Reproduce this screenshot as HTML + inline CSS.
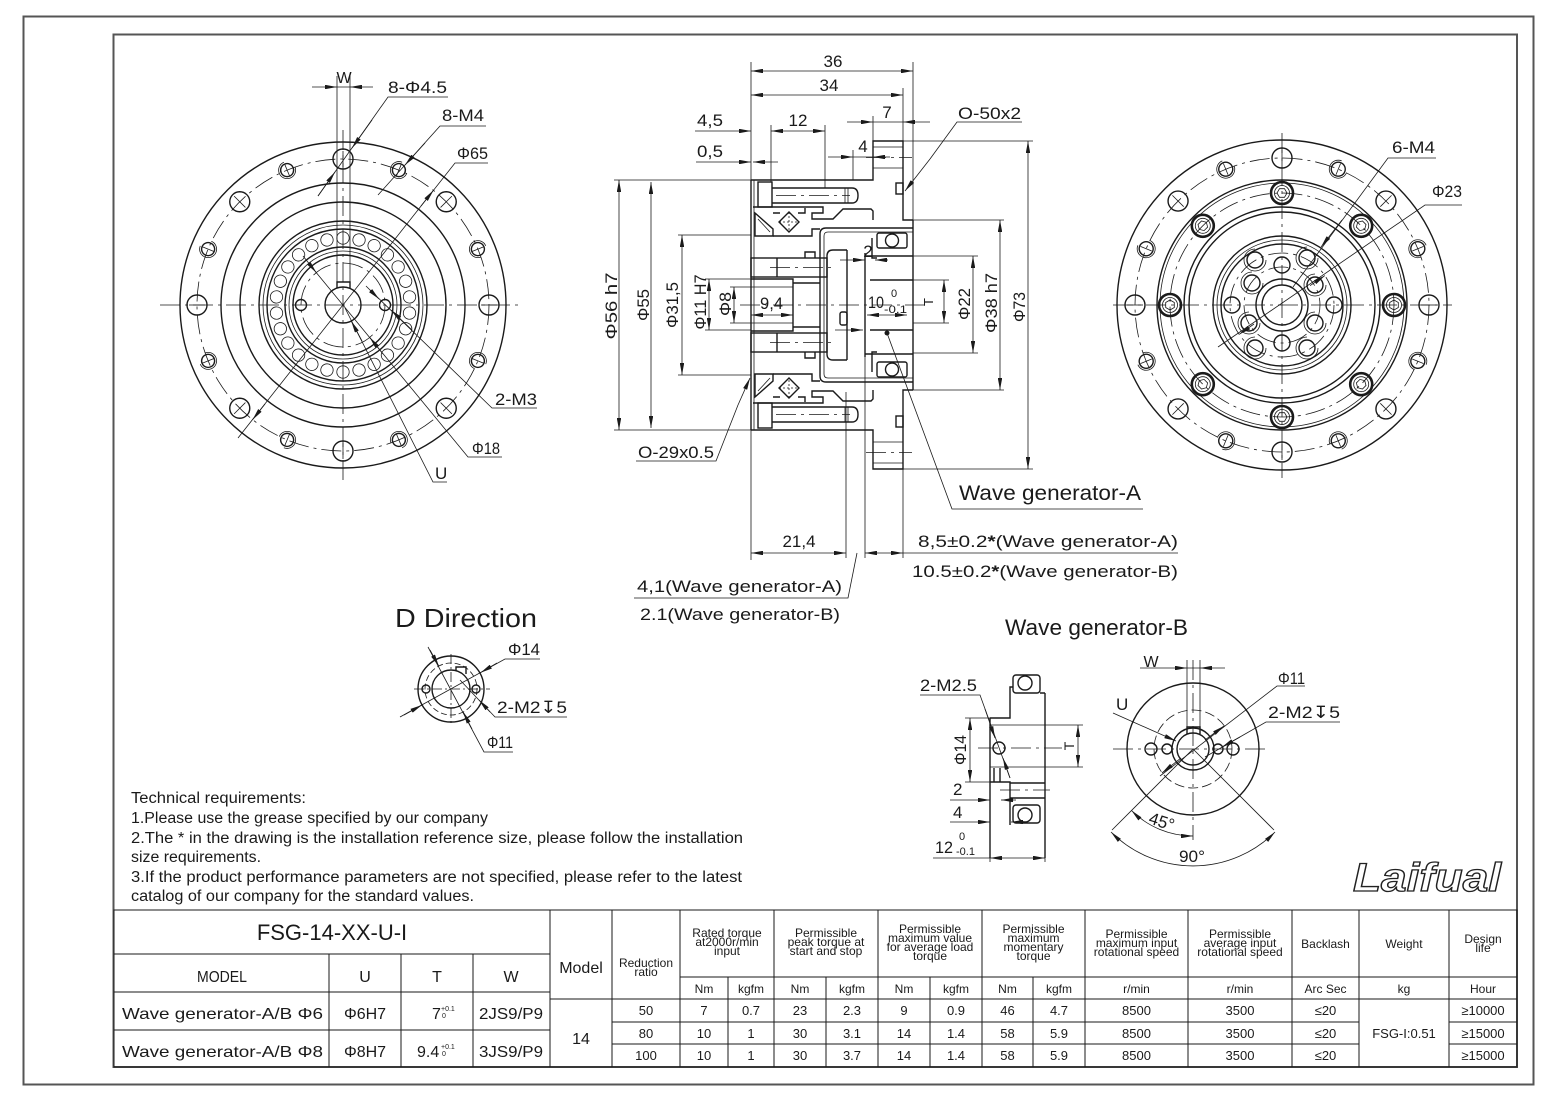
<!DOCTYPE html>
<html><head><meta charset="utf-8"><style>
html,body{margin:0;padding:0;background:#fff}
svg{display:block}
</style></head><body>
<svg width="1559" height="1102" viewBox="0 0 1559 1102" xmlns="http://www.w3.org/2000/svg">
<style>
.t{stroke:#1a1a1a;stroke-width:1.4;fill:none}
.n{stroke:#1a1a1a;stroke-width:0.8;fill:none}
.c{stroke:#1a1a1a;stroke-width:0.8;fill:none;stroke-dasharray:20 5 3 5}
.h{stroke:#1a1a1a;stroke-width:0.8;fill:none;stroke-dasharray:6 4}
.b{stroke:#1a1a1a;stroke-width:0.8;fill:none;marker-start:url(#ar);marker-end:url(#ar)}
.e{stroke:#1a1a1a;stroke-width:0.8;fill:none;marker-end:url(#ar)}
.g{stroke:#1a1a1a;stroke-width:1;fill:none}
text{font-family:"Liberation Sans",sans-serif;fill:#1a1a1a}
.k{font-size:17px}
.tb{font-size:12px}
.tn{font-size:13px}
.tr{font-size:15.5px}
.logo{fill:#fff;stroke:#222;stroke-width:1.3;font-size:40px;font-style:italic;font-weight:bold}
</style>
<defs>
<marker id="ar" viewBox="0 0 12 4.4" refX="12" refY="2.2" markerWidth="12" markerHeight="4.4" markerUnits="userSpaceOnUse" orient="auto-start-reverse"><path d="M0,0L12,2.2L0,4.4z" fill="#1a1a1a"/></marker>
<g id="rl"><circle class="n" cx="343" cy="238" r="6.2"/></g>
<g id="LH"><circle class="t" cx="343" cy="159" r="10"/><path class="n" d="M343,151V167"/></g>
<g id="LS"><circle class="t" cx="343" cy="159" r="6.5"/><path class="n" d="M351.5,159A8.5,8.5 0 1 1 343,150.5M343,153V165"/></g>
<g id="RH"><circle class="t" cx="1282" cy="158" r="10"/><path class="n" d="M1282,150V166"/></g>
<g id="RS"><circle class="t" cx="1282" cy="158" r="7"/><path class="n" d="M1291,158A9,9 0 1 1 1282,149M1282,152V164"/></g>
<g id="HB"><circle cx="1282" cy="193" r="11" fill="none" stroke="#1a1a1a" stroke-width="2.6"/><circle class="n" cx="1282" cy="193" r="7.5"/><path class="n" d="M1287,193L1284.5,197.3H1279.5L1277,193L1279.5,188.7H1284.5Z"/></g>
</defs>

<!-- frames -->
<rect x="23.5" y="16.5" width="1510" height="1068" fill="none" stroke="#555" stroke-width="2"/>
<rect x="113.5" y="34.5" width="1403.5" height="1032.5" fill="none" stroke="#555" stroke-width="2"/>

<!-- ============ LEFT VIEW ============ -->
<circle class="t" cx="343" cy="305" r="163"/>
<circle class="c" cx="343" cy="305" r="146"/>
<circle class="t" cx="343" cy="305" r="122"/>
<circle class="t" cx="343" cy="305" r="103"/>
<circle class="t" cx="343" cy="305" r="84"/>
<circle class="n" cx="343" cy="305" r="80"/>
<circle class="t" cx="343" cy="305" r="76"/>
<circle class="t" cx="343" cy="305" r="58"/>
<circle class="n" cx="343" cy="305" r="54"/>
<circle class="t" cx="343" cy="305" r="50"/>
<circle class="c" cx="343" cy="305" r="42"/>
<circle class="t" cx="343" cy="305" r="18"/>
<path class="t" d="M337,288V282H350V288"/>
<circle class="t" cx="301" cy="305" r="5.5"/>
<circle class="t" cx="385" cy="305" r="5.5"/>
<use href="#rl"/>
<use href="#rl" transform="rotate(13.85 343 305)"/>
<use href="#rl" transform="rotate(27.69 343 305)"/>
<use href="#rl" transform="rotate(41.54 343 305)"/>
<use href="#rl" transform="rotate(55.38 343 305)"/>
<use href="#rl" transform="rotate(69.23 343 305)"/>
<use href="#rl" transform="rotate(83.08 343 305)"/>
<use href="#rl" transform="rotate(96.92 343 305)"/>
<use href="#rl" transform="rotate(110.77 343 305)"/>
<use href="#rl" transform="rotate(124.62 343 305)"/>
<use href="#rl" transform="rotate(138.46 343 305)"/>
<use href="#rl" transform="rotate(152.31 343 305)"/>
<use href="#rl" transform="rotate(166.15 343 305)"/>
<use href="#rl" transform="rotate(180 343 305)"/>
<use href="#rl" transform="rotate(193.85 343 305)"/>
<use href="#rl" transform="rotate(207.69 343 305)"/>
<use href="#rl" transform="rotate(221.54 343 305)"/>
<use href="#rl" transform="rotate(235.38 343 305)"/>
<use href="#rl" transform="rotate(249.23 343 305)"/>
<use href="#rl" transform="rotate(263.08 343 305)"/>
<use href="#rl" transform="rotate(276.92 343 305)"/>
<use href="#rl" transform="rotate(290.77 343 305)"/>
<use href="#rl" transform="rotate(304.62 343 305)"/>
<use href="#rl" transform="rotate(318.46 343 305)"/>
<use href="#rl" transform="rotate(332.31 343 305)"/>
<use href="#rl" transform="rotate(346.15 343 305)"/>
<use href="#LH"/>
<use href="#LH" transform="rotate(45 343 305)"/>
<use href="#LH" transform="rotate(90 343 305)"/>
<use href="#LH" transform="rotate(135 343 305)"/>
<use href="#LH" transform="rotate(180 343 305)"/>
<use href="#LH" transform="rotate(225 343 305)"/>
<use href="#LH" transform="rotate(270 343 305)"/>
<use href="#LH" transform="rotate(315 343 305)"/>
<use href="#LS" transform="rotate(22.5 343 305)"/>
<use href="#LS" transform="rotate(67.5 343 305)"/>
<use href="#LS" transform="rotate(112.5 343 305)"/>
<use href="#LS" transform="rotate(157.5 343 305)"/>
<use href="#LS" transform="rotate(202.5 343 305)"/>
<use href="#LS" transform="rotate(247.5 343 305)"/>
<use href="#LS" transform="rotate(292.5 343 305)"/>
<use href="#LS" transform="rotate(337.5 343 305)"/>
<line class="c" x1="160" y1="305" x2="522" y2="305"/>
<line class="c" x1="343" y1="130" x2="343" y2="480"/>
<!-- W -->
<path class="n" d="M337,76V282M350,76V282M337,87H350"/>
<line class="e" x1="312" y1="87" x2="337" y2="87"/>
<line class="e" x1="373" y1="87" x2="350" y2="87"/>
<text x="344" y="83" font-size="16" text-anchor="middle">W</text>
<!-- leaders -->
<polyline class="n" points="448,97 388,97 318,196"/>
<line class="e" x1="372" y1="120" x2="352" y2="148"/>
<line class="e" x1="318" y1="196" x2="335" y2="172"/>
<text class="k" x="388" y="93" textLength="59" lengthAdjust="spacingAndGlyphs">8-Φ4.5</text>
<polyline class="n" points="486,126 440,126 378,195"/>
<line class="e" x1="425" y1="143" x2="405" y2="165"/>
<text class="k" x="442" y="121" textLength="42" lengthAdjust="spacingAndGlyphs">8-M4</text>
<polyline class="n" points="488,163 455,163 238,438"/>
<line class="e" x1="421" y1="206" x2="433.5" y2="190.2"/>
<line class="e" x1="265" y1="404" x2="252.5" y2="419.8"/>
<text class="k" x="457" y="159" textLength="31" lengthAdjust="spacingAndGlyphs">Φ65</text>
<polyline class="n" points="537,408 492,408 370,290"/>
<line class="e" x1="412" y1="330" x2="391" y2="310"/>
<line class="e" x1="366" y1="286" x2="379" y2="299"/>
<text class="k" x="495" y="405" textLength="42" lengthAdjust="spacingAndGlyphs">2-M3</text>
<polyline class="n" points="502,457 468,457 310,265"/>
<line class="e" x1="383" y1="354" x2="369.7" y2="337.4"/>
<line class="e" x1="303" y1="256" x2="316.3" y2="272.6"/>
<text class="k" x="472" y="454" textLength="28" lengthAdjust="spacingAndGlyphs">Φ18</text>
<polyline class="n" points="447,482 433,482 345,308"/>
<line class="e" x1="362" y1="341" x2="351.2" y2="321"/>
<text class="k" x="435" y="479">U</text>

<!-- ============ CENTER SECTION ============ -->
<g id="UH">
<path class="t" d="M751,180H873V141H903V220H913"/>
<path class="n" d="M873,147H903M873,168H903"/>
<line class="c" x1="866" y1="157.5" x2="912" y2="157.5"/>
<rect class="t" x="896" y="183" width="7" height="11"/>
<rect class="t" x="758" y="182" width="14" height="25"/>
<path class="t" d="M772,188H852Q858,188 858,195.5Q858,203 852,203H772"/>
<path class="n" d="M845,188V203M848,188V203"/>
<line class="c" x1="776" y1="195.5" x2="850" y2="195.5"/>
<path class="t" d="M753,207H823V213H812V219H833L843,209H871L873,211V220"/>
<path class="t" d="M913,228H826Q820,228 820,234V305"/>
<path class="n" d="M913,232H828Q824,232 824,236V305"/>
<path class="t" d="M755,213L773,229V236H755Z"/>
<path class="n" d="M758,219L770,232"/>
<path class="t" d="M789,212L799,222L789,232L779,222Z"/>
<path class="n" d="M789,212V232M779,222H799" stroke-dasharray="2 2"/>
<path class="t" d="M773,236H812V229H820"/>
<path class="t" d="M773,213H780M798,213H805V208"/>
<rect class="t" x="751" y="258" width="76" height="19"/>
<line class="t" x1="777" y1="258" x2="777" y2="277"/>
<line class="c" x1="770" y1="267.5" x2="832" y2="267.5"/>
<path class="t" d="M805,258V252H815V258"/>
<path class="t" d="M847,250H833Q827,250 827,256V305M847,250V305"/>
<path class="t" d="M751,279H793V305M793,283H820"/>
<rect class="t" x="877" y="233" width="30" height="15" rx="2"/>
<circle class="t" cx="892" cy="240.5" r="6.5"/>
<path class="t" d="M872,238V258H877"/>
<path class="t" d="M865,256H913M870,280H913"/>
<line class="t" x1="865" y1="253" x2="865" y2="305"/>
<line class="t" x1="913" y1="220" x2="913" y2="305"/>
<line class="t" x1="751" y1="180" x2="751" y2="305"/>
<line class="n" x1="754" y1="180" x2="754" y2="305"/>
</g>
<use href="#UH" transform="matrix(1 0 0 -1 0 610)"/>
<rect class="t" x="840" y="312" width="7" height="13" rx="2"/>
<circle cx="887" cy="333" r="2.5" fill="#1a1a1a"/>
<line class="c" x1="740" y1="305" x2="925" y2="305"/>
<!-- extension lines -->
<path class="n" d="M751,62V180M751,430V560M913,62V220M903,88V141M873,116V141M853,150V180M771,125V182M825,125V188M846,392V558M865,357V558M903,392V558"/>
<path class="n" d="M614,180H751M614,430H751M678,235H751M678,375H751M705,279H751M705,330H751M730,287H793M730,323H793M913,256H978M913,353H978M913,220H1004M913,390H1004M903,141H1033M903,469H1033M913,280H949M913,323H949"/>
<!-- dims -->
<line class="b" x1="751" y1="71" x2="913" y2="71"/>
<text class="k" x="833" y="67" text-anchor="middle">36</text>
<line class="b" x1="751" y1="95" x2="903" y2="95"/>
<text class="k" x="829" y="91" text-anchor="middle">34</text>
<line class="e" x1="695" y1="131" x2="751" y2="131"/>
<line class="b" x1="771" y1="131" x2="825" y2="131"/>
<text class="k" x="697" y="126" textLength="26" lengthAdjust="spacingAndGlyphs">4,5</text>
<text class="k" x="798" y="126" text-anchor="middle">12</text>
<line class="e" x1="696" y1="162" x2="751" y2="162"/>
<line class="e" x1="778" y1="162" x2="753" y2="162"/>
<text class="k" x="697" y="157" textLength="26" lengthAdjust="spacingAndGlyphs">0,5</text>
<line class="e" x1="847" y1="122" x2="873" y2="122"/>
<line class="e" x1="930" y1="122" x2="903" y2="122"/>
<line class="n" x1="873" y1="122" x2="903" y2="122"/>
<text class="k" x="887" y="118" text-anchor="middle">7</text>
<line class="e" x1="828" y1="157" x2="853" y2="157"/>
<line class="e" x1="890" y1="157" x2="873" y2="157"/>
<line class="n" x1="853" y1="157" x2="873" y2="157"/>
<text class="k" x="863" y="152" text-anchor="middle">4</text>
<polyline class="n" points="1022,122 957,122 930,159"/>
<line class="e" x1="930" y1="159" x2="905" y2="191"/>
<text class="k" x="958" y="119" textLength="63" lengthAdjust="spacingAndGlyphs">O-50x2</text>
<line class="b" x1="619" y1="180" x2="619" y2="430"/>
<text class="k" transform="translate(617,306) rotate(-90)" text-anchor="middle" textLength="67" lengthAdjust="spacingAndGlyphs">Φ56 h7</text>
<line class="b" x1="651" y1="182" x2="651" y2="428"/>
<text class="k" transform="translate(649,305) rotate(-90)" text-anchor="middle" textLength="32" lengthAdjust="spacingAndGlyphs">Φ55</text>
<line class="b" x1="682" y1="235" x2="682" y2="375"/>
<text class="k" transform="translate(678,305) rotate(-90)" text-anchor="middle" textLength="46" lengthAdjust="spacingAndGlyphs">Φ31,5</text>
<line class="b" x1="709" y1="279" x2="709" y2="330"/>
<text class="k" transform="translate(706,302) rotate(-90)" text-anchor="middle" textLength="55" lengthAdjust="spacingAndGlyphs">Φ11 H7</text>
<line class="b" x1="734" y1="287" x2="734" y2="323"/>
<text class="k" transform="translate(731,304) rotate(-90)" text-anchor="middle" textLength="24" lengthAdjust="spacingAndGlyphs">Φ8</text>
<line class="b" x1="751" y1="315" x2="793" y2="315"/>
<text class="k" x="760" y="309" textLength="23" lengthAdjust="spacingAndGlyphs">9,4</text>
<line class="b" x1="867" y1="315" x2="907" y2="315"/>
<text class="k" x="868" y="308" textLength="16" lengthAdjust="spacingAndGlyphs">10</text>
<text x="891" y="297" font-size="11">0</text>
<text x="884" y="313" font-size="11" textLength="23" lengthAdjust="spacingAndGlyphs">-0.1</text>
<line class="b" x1="944" y1="280" x2="944" y2="323"/>
<text transform="translate(933,302) rotate(-90)" font-size="13" text-anchor="middle">T</text>
<line class="e" x1="840" y1="260" x2="865" y2="260"/>
<line class="e" x1="888" y1="260" x2="875" y2="260"/>
<text class="k" x="868" y="257" text-anchor="middle">2</text>
<line class="e" x1="835" y1="330" x2="863" y2="330"/>
<line class="b" x1="973" y1="256" x2="973" y2="353"/>
<text class="k" transform="translate(970,304) rotate(-90)" text-anchor="middle" textLength="32" lengthAdjust="spacingAndGlyphs">Φ22</text>
<line class="b" x1="1000" y1="220" x2="1000" y2="390"/>
<text class="k" transform="translate(997,303) rotate(-90)" text-anchor="middle" textLength="60" lengthAdjust="spacingAndGlyphs">Φ38 h7</text>
<line class="b" x1="1028" y1="141" x2="1028" y2="469"/>
<text class="k" transform="translate(1025,307) rotate(-90)" text-anchor="middle" textLength="30" lengthAdjust="spacingAndGlyphs">Φ73</text>
<polyline class="n" points="636,461 716,461 738,405"/>
<line class="e" x1="738" y1="405" x2="750" y2="378"/>
<text class="k" x="638" y="458" textLength="76" lengthAdjust="spacingAndGlyphs">O-29x0.5</text>
<polyline class="n" points="1143,509 952,509 887,333"/>
<text x="959" y="500" font-size="21" textLength="182" lengthAdjust="spacingAndGlyphs">Wave generator-A</text>
<line class="b" x1="751" y1="553" x2="846" y2="553"/>
<text class="k" x="799" y="547" text-anchor="middle" textLength="33" lengthAdjust="spacingAndGlyphs">21,4</text>
<line class="b" x1="865" y1="553" x2="903" y2="553"/>
<line class="n" x1="903" y1="553" x2="1178" y2="553"/>
<text class="k" x="918" y="547" textLength="260" lengthAdjust="spacingAndGlyphs">8,5±0.2<tspan font-weight="bold">*</tspan>(Wave generator-A)</text>
<text class="k" x="912" y="577" textLength="266" lengthAdjust="spacingAndGlyphs">10.5±0.2<tspan font-weight="bold">*</tspan>(Wave generator-B)</text>
<polyline class="n" points="634,598 848,598 857,553"/>
<text class="k" x="637" y="592" textLength="205" lengthAdjust="spacingAndGlyphs">4,1(Wave generator-A)</text>
<text class="k" x="640" y="620" textLength="200" lengthAdjust="spacingAndGlyphs">2.1(Wave generator-B)</text>

<!-- ============ RIGHT VIEW ============ -->
<circle class="t" cx="1282" cy="305" r="165"/>
<circle class="c" cx="1282" cy="305" r="147"/>
<circle class="t" cx="1282" cy="305" r="125"/>
<circle class="n" cx="1282" cy="305" r="122"/>
<circle class="c" cx="1282" cy="305" r="112"/>
<circle class="t" cx="1282" cy="305" r="98"/>
<circle class="t" cx="1282" cy="305" r="93"/>
<circle class="t" cx="1282" cy="305" r="69"/>
<circle class="n" cx="1282" cy="305" r="65"/>
<circle class="t" cx="1282" cy="305" r="61"/>
<circle class="c" cx="1282" cy="305" r="52"/>
<circle class="c" cx="1282" cy="305" r="38"/>
<circle class="t" cx="1282" cy="305" r="26"/>
<circle class="t" cx="1282" cy="305" r="20"/>
<use href="#RH"/>
<use href="#RH" transform="rotate(45 1282 305)"/>
<use href="#RH" transform="rotate(90 1282 305)"/>
<use href="#RH" transform="rotate(135 1282 305)"/>
<use href="#RH" transform="rotate(180 1282 305)"/>
<use href="#RH" transform="rotate(225 1282 305)"/>
<use href="#RH" transform="rotate(270 1282 305)"/>
<use href="#RH" transform="rotate(315 1282 305)"/>
<use href="#RS" transform="rotate(22.5 1282 305)"/>
<use href="#RS" transform="rotate(67.5 1282 305)"/>
<use href="#RS" transform="rotate(112.5 1282 305)"/>
<use href="#RS" transform="rotate(157.5 1282 305)"/>
<use href="#RS" transform="rotate(202.5 1282 305)"/>
<use href="#RS" transform="rotate(247.5 1282 305)"/>
<use href="#RS" transform="rotate(292.5 1282 305)"/>
<use href="#RS" transform="rotate(337.5 1282 305)"/>
<use href="#HB"/>
<use href="#HB" transform="rotate(45 1282 305)"/>
<use href="#HB" transform="rotate(90 1282 305)"/>
<use href="#HB" transform="rotate(135 1282 305)"/>
<use href="#HB" transform="rotate(180 1282 305)"/>
<use href="#HB" transform="rotate(225 1282 305)"/>
<use href="#HB" transform="rotate(270 1282 305)"/>
<use href="#HB" transform="rotate(315 1282 305)"/>
<g class="t">
<circle cx="1282" cy="265" r="8"/><circle cx="1282" cy="343" r="8"/>
<circle cx="1232" cy="305" r="8"/><circle cx="1334" cy="305" r="8"/>
<circle cx="1252" cy="283" r="8"/><circle cx="1315" cy="285" r="8"/>
<circle cx="1249" cy="323" r="8"/><circle cx="1315" cy="323" r="8"/>
<circle cx="1255" cy="260" r="8"/><circle cx="1307" cy="258" r="8"/>
<circle cx="1255" cy="348" r="8"/><circle cx="1307" cy="348" r="8"/>
</g>
<g class="n">
<path d="M1263,283A11,11 0 1 1 1252,272"/><path d="M1326,285A11,11 0 1 1 1315,274"/>
<path d="M1260,323A11,11 0 1 1 1249,312"/><path d="M1326,323A11,11 0 1 1 1315,312"/>
<path d="M1266,260A11,11 0 1 1 1255,249"/><path d="M1318,258A11,11 0 1 1 1307,247"/>
<path d="M1266,348A11,11 0 1 1 1255,337"/><path d="M1318,348A11,11 0 1 1 1307,337"/>
</g>
<line class="c" x1="1113" y1="305" x2="1452" y2="305"/>
<line class="c" x1="1282" y1="133" x2="1282" y2="478"/>
<polyline class="n" points="1436,158 1388,158 1293,287"/>
<line class="e" x1="1342" y1="220" x2="1321" y2="247"/>
<text class="k" x="1392" y="153" textLength="43" lengthAdjust="spacingAndGlyphs">6-M4</text>
<polyline class="n" points="1462,205 1425,205 1218,347"/>
<line class="e" x1="1310" y1="285.7" x2="1324.9" y2="275.6"/>
<line class="e" x1="1254" y1="324" x2="1239.1" y2="334.4"/>
<text class="k" x="1432" y="197" textLength="30" lengthAdjust="spacingAndGlyphs">Φ23</text>

<!-- ============ D DIRECTION ============ -->
<text x="395" y="627" font-size="26" textLength="142" lengthAdjust="spacingAndGlyphs">D Direction</text>
<circle class="t" cx="451" cy="689" r="33"/>
<circle class="c" cx="451" cy="689" r="26" style="stroke-dasharray:6 3"/>
<circle class="t" cx="451" cy="689" r="19"/>
<path class="t" d="M456,671V667H466V674"/>
<circle class="t" cx="426" cy="689" r="4"/>
<circle class="t" cx="476" cy="689" r="4"/>
<line class="c" x1="414" y1="689" x2="490" y2="689" style="stroke-dasharray:10 3 2 3"/>
<line class="c" x1="451" y1="654" x2="451" y2="724" style="stroke-dasharray:10 3 2 3"/>
<polyline class="n" points="540,659 505,659 400,717"/>
<line class="e" x1="497" y1="663" x2="480.5" y2="672.7"/>
<line class="e" x1="404" y1="715" x2="422" y2="705"/>
<text class="k" x="508" y="655" textLength="32" lengthAdjust="spacingAndGlyphs">Φ14</text>
<polyline class="n" points="567,717 495,717 460,680"/>
<line class="e" x1="490" y1="712" x2="479" y2="700"/>
<text class="k" x="497" y="713" textLength="70" lengthAdjust="spacingAndGlyphs">2-M2↧5</text>
<polyline class="n" points="513,752 484,752 428,647"/>
<line class="e" x1="430" y1="650" x2="438.8" y2="666.1"/>
<line class="e" x1="472" y1="729" x2="463.2" y2="711.9"/>
<text class="k" x="487" y="748" textLength="26" lengthAdjust="spacingAndGlyphs">Φ11</text>

<!-- ============ WAVE GENERATOR B ============ -->
<text x="1005" y="635" font-size="22" textLength="183" lengthAdjust="spacingAndGlyphs">Wave generator-B</text>
<path class="t" d="M990,718V858M990,718H1010V687H1013"/>
<rect class="t" x="1013" y="675" width="27" height="18" rx="3"/>
<circle class="t" cx="1025" cy="683" r="7"/>
<path class="t" d="M1045,693V858M1040,693H1045"/>
<path class="n" d="M990,725H1083M990,767H1083"/>
<line class="c" x1="978" y1="748" x2="1062" y2="748"/>
<circle class="t" cx="999" cy="748" r="6"/>
<path class="t" d="M990,782H1010V825M994,768V782M1000,768V782M1010,783H1045M1010,798H1045"/>
<line class="c" x1="1000" y1="790" x2="1050" y2="790"/>
<rect class="t" x="1013" y="805" width="27" height="18" rx="3"/>
<circle class="t" cx="1025" cy="815" r="7"/>
<path class="n" d="M965,718H990M965,782H990M990,858V862M1045,858V862"/>
<line class="b" x1="970" y1="718" x2="970" y2="782"/>
<text class="k" transform="translate(966,750) rotate(-90)" text-anchor="middle" textLength="30" lengthAdjust="spacingAndGlyphs">Φ14</text>
<line class="b" x1="1078" y1="725" x2="1078" y2="767"/>
<text transform="translate(1074,746) rotate(-90)" font-size="14" text-anchor="middle">T</text>
<line class="e" x1="950" y1="800" x2="990" y2="800"/>
<line class="e" x1="1016" y1="800" x2="1001" y2="800"/>
<text class="k" x="953" y="795">2</text>
<line class="e" x1="950" y1="822" x2="990" y2="822"/>
<line class="e" x1="1026" y1="822" x2="1011" y2="822"/>
<text class="k" x="953" y="818">4</text>
<line class="n" x1="933" y1="858" x2="990" y2="858"/>
<line class="b" x1="990" y1="858" x2="1045" y2="858"/>
<text class="k" x="935" y="853" textLength="18" lengthAdjust="spacingAndGlyphs">12</text>
<text x="959" y="840" font-size="11">0</text>
<text x="956" y="855" font-size="11" textLength="19" lengthAdjust="spacingAndGlyphs">-0.1</text>
<polyline class="n" points="920,695 980,695 1010,778"/>
<line class="e" x1="985" y1="709" x2="995" y2="738"/>
<line class="e" x1="1010" y1="778" x2="1003" y2="758"/>
<text class="k" x="920" y="691" textLength="57" lengthAdjust="spacingAndGlyphs">2-M2.5</text>
<!-- front -->
<circle class="t" cx="1193" cy="749" r="66"/>
<circle class="c" cx="1193" cy="749" r="39" style="stroke-dasharray:10 4"/>
<circle class="t" cx="1193" cy="749" r="21"/>
<circle class="t" cx="1193" cy="749" r="16"/>
<path class="t" d="M1187,734V727H1200V734"/>
<path class="n" d="M1187,660V727M1200,660V727M1187,668H1200"/>
<line class="e" x1="1140" y1="668" x2="1187" y2="668"/>
<line class="e" x1="1225" y1="668" x2="1200" y2="668"/>
<text x="1151" y="667" font-size="16" text-anchor="middle">W</text>
<circle class="t" cx="1151" cy="749" r="6"/>
<circle class="t" cx="1167" cy="749" r="5"/>
<circle class="t" cx="1218" cy="749" r="5"/>
<circle class="t" cx="1233" cy="749" r="6"/>
<line class="c" x1="1113" y1="749" x2="1270" y2="749"/>
<line class="c" x1="1193" y1="660" x2="1193" y2="840"/>
<polyline class="n" points="1305,686 1277,686 1160,776"/>
<line class="e" x1="1205" y1="740" x2="1224" y2="726"/>
<line class="e" x1="1181" y1="758" x2="1162" y2="773"/>
<text class="k" x="1278" y="684" textLength="27" lengthAdjust="spacingAndGlyphs">Φ11</text>
<polyline class="n" points="1340,722 1266,722 1205,757"/>
<line class="e" x1="1240" y1="737" x2="1222" y2="747"/>
<text class="k" x="1268" y="718" textLength="72" lengthAdjust="spacingAndGlyphs">2-M2↧5</text>
<line class="e" x1="1113" y1="713" x2="1176" y2="741"/>
<text class="k" x="1116" y="710">U</text>
<path class="n" d="M1193,749L1112,830M1193,749L1274,830"/>
<path class="b" d="M1111,832A116,116 0 0 0 1275,832"/>
<path class="b" d="M1131.5,810.5A87,87 0 0 0 1193,836"/>
<text class="k" transform="translate(1160,827) rotate(18)" text-anchor="middle">45°</text>
<text class="k" x="1192" y="862" text-anchor="middle" textLength="26" lengthAdjust="spacingAndGlyphs">90°</text>

<!-- ============ TECH REQUIREMENTS ============ -->
<text class="tr" x="131" y="803" textLength="175" lengthAdjust="spacingAndGlyphs">Technical requirements:</text>
<text class="tr" x="131" y="823" textLength="357" lengthAdjust="spacingAndGlyphs">1.Please use the grease specified by our company</text>
<text class="tr" x="131" y="843" textLength="612" lengthAdjust="spacingAndGlyphs">2.The * in the drawing is the installation reference size, please follow the installation</text>
<text class="tr" x="131" y="862" textLength="130" lengthAdjust="spacingAndGlyphs">size requirements.</text>
<text class="tr" x="131" y="882" textLength="611" lengthAdjust="spacingAndGlyphs">3.If the product performance parameters are not specified, please refer to the latest</text>
<text class="tr" x="131" y="901" textLength="343" lengthAdjust="spacingAndGlyphs">catalog of our company for the standard values.</text>

<!-- logo -->
<text class="logo" x="1353" y="891" textLength="148" lengthAdjust="spacingAndGlyphs">Laifual</text>

<!-- ============ TABLE ============ -->
<rect class="g" x="114" y="910" width="1403" height="157" stroke-width="1.4"/>
<path class="g" d="M329,954V1067M401,954V1067M473,954V1067M550,910V1067M114,954H550M114,992H550M114,1030H550"/>
<path class="g" d="M612,910V1067M680,910V1067M728,977V1067M774,910V1067M826,977V1067M878,910V1067M930,977V1067M982,910V1067M1033,977V1067M1085,910V1067M1188,910V1067M1292,910V1067M1359,910V1067M1449,910V1067"/>
<path class="g" d="M680,977H1517M550,999H1517M612,1022H1359M1449,1022H1517M612,1044H1359M1449,1044H1517"/>
<text x="332" y="940" font-size="22" text-anchor="middle">FSG-14-XX-U-I</text>
<text x="222" y="982" font-size="16" text-anchor="middle" textLength="50" lengthAdjust="spacingAndGlyphs">MODEL</text>
<text x="365" y="982" font-size="16" text-anchor="middle">U</text>
<text x="437" y="982" font-size="16" text-anchor="middle">T</text>
<text x="511" y="982" font-size="16" text-anchor="middle">W</text>
<text x="122" y="1019" font-size="16" textLength="201" lengthAdjust="spacingAndGlyphs">Wave generator-A/B Φ6</text>
<text x="365" y="1019" font-size="16" text-anchor="middle">Φ6H7</text>
<text x="432" y="1019" font-size="16">7</text>
<text x="441" y="1011" font-size="7">+0.1</text>
<text x="442" y="1018" font-size="7">0</text>
<text x="511" y="1019" font-size="16" text-anchor="middle" textLength="64" lengthAdjust="spacingAndGlyphs">2JS9/P9</text>
<text x="122" y="1057" font-size="16" textLength="201" lengthAdjust="spacingAndGlyphs">Wave generator-A/B Φ8</text>
<text x="365" y="1057" font-size="16" text-anchor="middle">Φ8H7</text>
<text x="417" y="1057" font-size="16">9.4</text>
<text x="441" y="1049" font-size="7">+0.1</text>
<text x="442" y="1056" font-size="7">0</text>
<text x="511" y="1057" font-size="16" text-anchor="middle" textLength="64" lengthAdjust="spacingAndGlyphs">3JS9/P9</text>
<text x="581" y="973" font-size="16" text-anchor="middle">Model</text>
<text x="581" y="1044" font-size="16" text-anchor="middle">14</text>
<g class="tb" text-anchor="middle">
<text x="646" y="967">Reduction</text><text x="646" y="976">ratio</text>
<text x="727" y="937">Rated torque</text><text x="727" y="946">at2000r/min</text><text x="727" y="955">input</text>
<text x="826" y="937">Permissible</text><text x="826" y="946">peak torque at</text><text x="826" y="955">start and stop</text>
<text x="930" y="933">Permissible</text><text x="930" y="942">maximum value</text><text x="930" y="951">for average load</text><text x="930" y="960">torque</text>
<text x="1033.5" y="933">Permissible</text><text x="1033.5" y="942">maximum</text><text x="1033.5" y="951">momentary</text><text x="1033.5" y="960">torque</text>
<text x="1136.5" y="938">Permissible</text><text x="1136.5" y="947">maximum input</text><text x="1136.5" y="956">rotational speed</text>
<text x="1240" y="938">Permissible</text><text x="1240" y="947">average input</text><text x="1240" y="956">rotational speed</text>
<text x="1325.5" y="948">Backlash</text>
<text x="1404" y="948">Weight</text>
<text x="1483" y="943">Design</text><text x="1483" y="952">life</text>
<text x="704" y="993">Nm</text><text x="751" y="993">kgfm</text>
<text x="800" y="993">Nm</text><text x="852" y="993">kgfm</text>
<text x="904" y="993">Nm</text><text x="956" y="993">kgfm</text>
<text x="1007.5" y="993">Nm</text><text x="1059" y="993">kgfm</text>
<text x="1136.5" y="993">r/min</text><text x="1240" y="993">r/min</text>
<text x="1325.5" y="993">Arc Sec</text><text x="1404" y="993">kg</text><text x="1483" y="993">Hour</text>
</g>
<g class="tn" text-anchor="middle">
<text x="646" y="1015">50</text><text x="704" y="1015">7</text><text x="751" y="1015">0.7</text><text x="800" y="1015">23</text><text x="852" y="1015">2.3</text><text x="904" y="1015">9</text><text x="956" y="1015">0.9</text><text x="1007.5" y="1015">46</text><text x="1059" y="1015">4.7</text><text x="1136.5" y="1015">8500</text><text x="1240" y="1015">3500</text><text x="1325.5" y="1015">≤20</text><text x="1483" y="1015">≥10000</text>
<text x="646" y="1038">80</text><text x="704" y="1038">10</text><text x="751" y="1038">1</text><text x="800" y="1038">30</text><text x="852" y="1038">3.1</text><text x="904" y="1038">14</text><text x="956" y="1038">1.4</text><text x="1007.5" y="1038">58</text><text x="1059" y="1038">5.9</text><text x="1136.5" y="1038">8500</text><text x="1240" y="1038">3500</text><text x="1325.5" y="1038">≤20</text><text x="1483" y="1038">≥15000</text>
<text x="646" y="1060">100</text><text x="704" y="1060">10</text><text x="751" y="1060">1</text><text x="800" y="1060">30</text><text x="852" y="1060">3.7</text><text x="904" y="1060">14</text><text x="956" y="1060">1.4</text><text x="1007.5" y="1060">58</text><text x="1059" y="1060">5.9</text><text x="1136.5" y="1060">8500</text><text x="1240" y="1060">3500</text><text x="1325.5" y="1060">≤20</text><text x="1483" y="1060">≥15000</text>
<text x="1404" y="1038">FSG-I:0.51</text>
</g>
</svg>
</body></html>
